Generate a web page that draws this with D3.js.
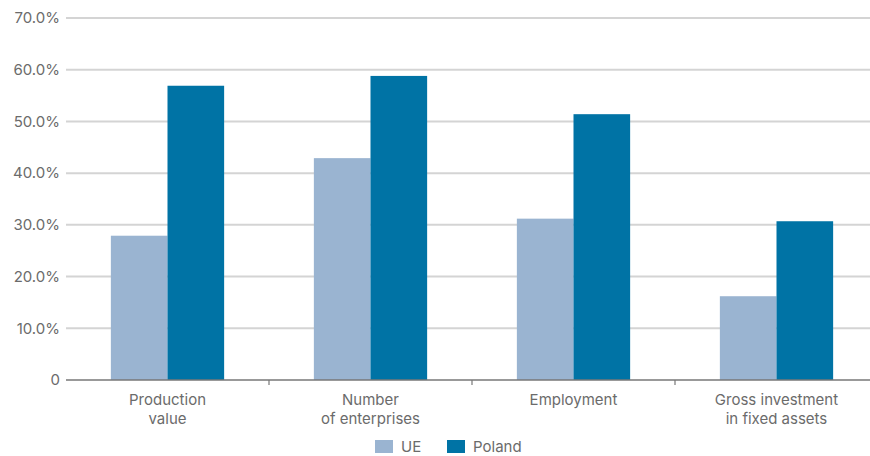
<!DOCTYPE html>
<html>
<head>
<meta charset="utf-8">
<script src="https://cdn.jsdelivr.net/npm/d3@7/dist/d3.min.js"></script>
<style>
  html, body { margin: 0; padding: 0; background: #fff; }
  svg { display: block; font-family: Inter, "Liberation Sans", Arial, sans-serif; }
</style>
</head>
<body>
<svg id="chart" width="870" height="456"></svg>
<script>
// Share of SMEs: EU vs Poland
const categories = [["Production", "value"], ["Number", "of enterprises"], ["Employment"], ["Gross investment", "in fixed assets"]];
const seriesNames = ["UE", "Poland"];
const ueValues = [27.9, 42.9, 31.2, 16.2];
const polandValues = [56.9, 58.8, 51.4, 30.7];
const yTicks = [0, 10, 20, 30, 40, 50, 60, 70];

const colors = { UE: "#9ab4d1", Poland: "#0073a5" };
const textColor = "#6b6b6b";

const svg = d3.select("#chart");
const plotLeft = 66, plotRight = 878, plotTop = 18, plotBottom = 380;

const x0 = d3.scaleBand().domain(d3.range(categories.length)).range([plotLeft, plotRight]).paddingInner(0).paddingOuter(0);
const inner = 0.558;
const x1 = d3.scaleBand().domain(seriesNames).range([0, x0.bandwidth() * inner]);
const y = d3.scaleLinear().domain([0, 70]).range([plotBottom, plotTop]);

// gridlines
svg.append("g").selectAll("line")
  .data(yTicks.filter(t => t > 0))
  .join("line")
  .attr("x1", plotLeft).attr("x2", 870)
  .attr("y1", d => y(d)).attr("y2", d => y(d))
  .attr("stroke", "#d4d4d4").attr("stroke-width", 2);

// y labels
svg.append("g").selectAll("text")
  .data(yTicks)
  .join("text")
  .attr("x", 60).attr("y", d => y(d))
  .attr("dy", "0.35em")
  .attr("text-anchor", "end")
  .attr("fill", textColor)
  .style("font-size", "15px")
  .text(d => d === 0 ? "0" : d.toFixed(1) + "%");

// bars
const rows = categories.map((c, i) => ({ i, UE: ueValues[i], Poland: polandValues[i] }));
const groups = svg.append("g").selectAll("g")
  .data(rows)
  .join("g")
  .attr("transform", d => `translate(${x0(d.i) + x0.bandwidth() * (1 - inner) / 2},0)`);

groups.selectAll("rect")
  .data(d => seriesNames.map(k => ({ key: k, value: d[k] })))
  .join("rect")
  .attr("x", d => x1(d.key))
  .attr("width", x1.bandwidth())
  .attr("y", d => y(d.value))
  .attr("height", d => y(0) - y(d.value))
  .attr("fill", d => colors[d.key]);

// baseline axis
svg.append("line")
  .attr("x1", plotLeft).attr("x2", 870)
  .attr("y1", plotBottom).attr("y2", plotBottom)
  .attr("stroke", "#777").attr("stroke-width", 1.5);

svg.append("g").selectAll("line")
  .data(d3.range(1, categories.length))
  .join("line")
  .attr("x1", d => x0(d)).attr("x2", d => x0(d))
  .attr("y1", plotBottom).attr("y2", plotBottom + 5)
  .attr("stroke", "#777").attr("stroke-width", 1.2);

// category labels
const catLabels = svg.append("g").selectAll("text")
  .data(categories.map((c, i) => ({ c, i })))
  .join("text")
  .attr("x", d => x0(d.i) + x0.bandwidth() / 2)
  .attr("y", 405)
  .attr("text-anchor", "middle")
  .attr("fill", textColor)
  .style("font-size", "15px");
catLabels.selectAll("tspan")
  .data(d => d.c.map((line, j) => ({ line, j, x: x0(d.i) + x0.bandwidth() / 2 })))
  .join("tspan")
  .attr("x", d => d.x)
  .attr("dy", d => d.j === 0 ? 0 : 19)
  .text(d => d.line);

// legend
const legendItems = [{ key: "UE", x: 375 }, { key: "Poland", x: 447 }];
const lg = svg.append("g").selectAll("g")
  .data(legendItems)
  .join("g")
  .attr("transform", d => `translate(${d.x},440)`);
lg.append("rect").attr("width", 18).attr("height", 13).attr("fill", d => colors[d.key]);
lg.append("text")
  .attr("x", 26).attr("y", 6.5).attr("dy", "0.35em")
  .attr("fill", textColor)
  .style("font-size", "15px")
  .text(d => d.key);
</script>
</body>
</html>
